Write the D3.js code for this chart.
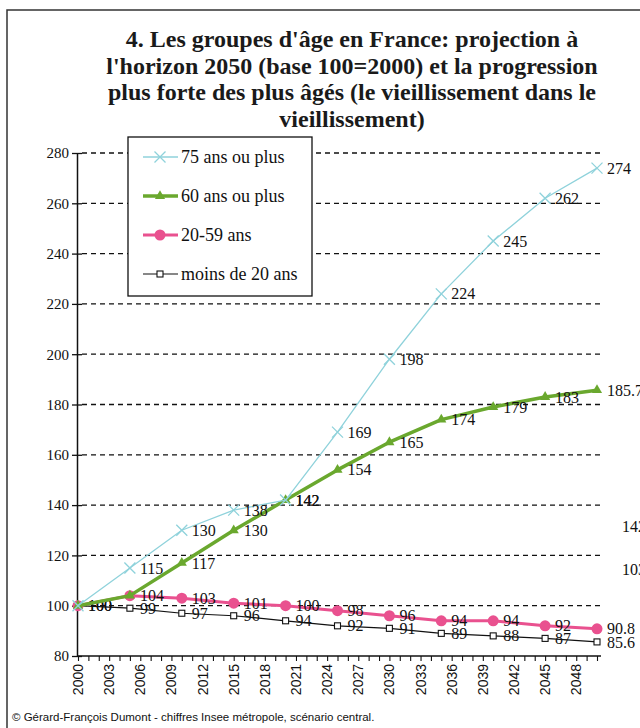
<!DOCTYPE html>
<html>
<head>
<meta charset="utf-8">
<script src="https://cdn.jsdelivr.net/npm/d3@7"></script>
<style>
  html, body { margin: 0; padding: 0; background: #fff; }
  svg { display: block; }
</style>
</head>
<body>
<svg id="chart" width="640" height="728"></svg>
<script>
const TITLE_LINES = [
  "4. Les groupes d'âge en France: projection à",
  "l'horizon 2050 (base 100=2000) et la progression",
  "plus forte des plus âgés (le vieillissement dans le",
  "vieillissement)",
];
const SOURCE = "© Gérard-François Dumont - chiffres Insee métropole, scénario central.";

const years = [2000, 2005, 2010, 2015, 2020, 2025, 2030, 2035, 2040, 2045, 2050];
const plus75 = [100, 115, 130, 138, 142, 169, 198, 224, 245, 262, 274];
const plus60 = [100, 104, 117, 130, 142, 154, 165, 174, 179, 183, 185.7];
const age20to59 = [100, 104, 103, 101, 100, 98, 96, 94, 94, 92, 90.8];
const under20 = [100, 99, 97, 96, 94, 92, 91, 89, 88, 87, 85.6];

// which points carry a value label (the 2000 and 2005 ones of the older groups don't)
const plus75Labels = [false, true, true, true, true, true, true, true, true, true, true];
const plus60Labels = [false, false, true, true, true, true, true, true, true, true, true];
const age20to59Labels = years.map(() => true);
const under20Labels = years.map(() => true);

const yTicks = [80, 100, 120, 140, 160, 180, 200, 220, 240, 260, 280];
const xTickLabels = d3.range(2000, 2049, 3);
// stray labels left on the right edge of the original
const strayLabels = [{ text: "142", value: 131.5 }, { text: "103", value: 114.5 }];

const SERIF = "'Liberation Serif', 'DejaVu Serif', serif";
const SANS = "'Liberation Sans', Arial, sans-serif";

const series = [
  { name: "75 ans ou plus", values: plus75, labels: plus75Labels, color: "#8fd2db", width: 1.3, marker: "cross" },
  { name: "60 ans ou plus", values: plus60, labels: plus60Labels, color: "#6aa82e", width: 3.5, marker: "triangle" },
  { name: "20-59 ans", values: age20to59, labels: age20to59Labels, color: "#e9518f", width: 3, marker: "circle" },
  { name: "moins de 20 ans", values: under20, labels: under20Labels, color: "#111", width: 1.2, marker: "square" },
];

const svg = d3.select("#chart");

// outer frame, runs off the right and bottom edges
svg.append("rect")
  .attr("x", 7).attr("y", 10)
  .attr("width", 700).attr("height", 800)
  .attr("fill", "none")
  .attr("stroke", "#333")
  .attr("stroke-width", 1.5);

svg.append("g")
  .selectAll("text")
  .data(TITLE_LINES)
  .join("text")
  .attr("x", 352)
  .attr("y", (d, i) => 47 + i * 26.5)
  .attr("text-anchor", "middle")
  .attr("font-family", SERIF)
  .attr("font-weight", "bold")
  .attr("font-size", 24)
  .attr("fill", "#1a1a1a")
  .text((d) => d);

const x = d3.scaleLinear().domain([2000, 2050]).range([78, 597]);
const y = d3.scaleLinear().domain([80, 280]).range([656, 153]);

// dashed grid
svg.append("g")
  .selectAll("line")
  .data(yTicks.filter((t) => t > 80))
  .join("line")
  .attr("x1", 82).attr("x2", 600)
  .attr("y1", (d) => y(d)).attr("y2", (d) => y(d))
  .attr("stroke", "#111")
  .attr("stroke-width", 1.3)
  .attr("stroke-dasharray", "5,4");

// y axis, ticks crossing the line
const yAxis = svg.append("g")
  .attr("transform", `translate(${x(2000) - 1},0)`)
  .call(d3.axisLeft(y).tickValues(yTicks).tickSizeInner(-5).tickSizeOuter(0).tickPadding(0));
yAxis.select(".domain").attr("stroke", "#111").attr("stroke-width", 1.5);
yAxis.selectAll(".tick line").attr("x1", -5).attr("x2", 5).attr("stroke", "#111").attr("stroke-width", 1.3);
yAxis.selectAll(".tick text")
  .attr("x", -8)
  .attr("font-family", SERIF)
  .attr("font-size", 15)
  .attr("fill", "#111");

// x axis: one tick per year, a label every three years
const xAxis = svg.append("g")
  .attr("transform", `translate(0,${y(80)})`)
  .call(d3.axisBottom(x).tickValues(d3.range(2000, 2051)).tickSizeInner(5).tickSizeOuter(0).tickFormat(""));
xAxis.select(".domain").attr("stroke", "#111").attr("stroke-width", 1.5)
  .attr("d", `M${x(2000) - 1},0H${x(2050) + 4}`);
xAxis.selectAll(".tick line").attr("stroke", "#111").attr("stroke-width", 1.1);

svg.append("g")
  .selectAll("text")
  .data(xTickLabels)
  .join("text")
  .attr("transform", (d) => `translate(${x(d) + 5},${y(80) + 8}) rotate(-90)`)
  .attr("text-anchor", "end")
  .attr("font-family", SANS)
  .attr("font-size", 14)
  .attr("fill", "#111")
  .text((d) => d);

function drawMarker(g, type, color, size) {
  if (type === "cross") {
    const s = size;
    g.append("path")
      .attr("d", `M${-s},${-s}L${s},${s}M${-s},${s}L${s},${-s}`)
      .attr("stroke", color).attr("stroke-width", 1.3).attr("fill", "none");
  } else if (type === "triangle") {
    g.append("path")
      .attr("d", d3.symbol(d3.symbolTriangle, size * size * 2.2)())
      .attr("fill", color);
  } else if (type === "circle") {
    g.append("circle").attr("r", size).attr("fill", color);
  } else {
    g.append("rect")
      .attr("x", -size).attr("y", -size)
      .attr("width", size * 2).attr("height", size * 2)
      .attr("fill", "#fff").attr("stroke", color).attr("stroke-width", 1.1);
  }
}

const markerSize = { cross: 5.5, triangle: 4.5, circle: 5.5, square: 3 };
const line = d3.line().x((d) => x(d[0])).y((d) => y(d[1]));

// draw the bottom series first so the older groups sit on top
[...series].reverse().forEach((s) => {
  const pts = years.map((yr, i) => [yr, s.values[i]]);
  const g = svg.append("g");
  g.append("path")
    .attr("d", line(pts))
    .attr("fill", "none")
    .attr("stroke", s.color)
    .attr("stroke-width", s.width)
    .attr("stroke-linejoin", "round");
  pts.forEach((p) => {
    const m = g.append("g").attr("transform", `translate(${x(p[0])},${y(p[1])})`);
    drawMarker(m, s.marker, s.color, markerSize[s.marker]);
  });
  g.selectAll("text")
    .data(pts.filter((p, i) => s.labels[i]))
    .join("text")
    .attr("x", (d) => x(d[0]) + 10)
    .attr("y", (d) => y(d[1]))
    .attr("dy", "0.35em")
    .attr("font-family", SERIF)
    .attr("font-size", 16)
    .attr("fill", "#111")
    .text((d) => d[1]);
});

svg.append("g")
  .selectAll("text")
  .data(strayLabels)
  .join("text")
  .attr("x", 622)
  .attr("y", (d) => y(d.value))
  .attr("dy", "0.35em")
  .attr("font-family", SERIF)
  .attr("font-size", 16)
  .attr("fill", "#111")
  .text((d) => d.text);

// legend
const legend = svg.append("g").attr("transform", "translate(128,137)");
legend.append("rect")
  .attr("width", 184).attr("height", 159)
  .attr("fill", "#fff")
  .attr("stroke", "#111")
  .attr("stroke-width", 1.3);
series.forEach((s, i) => {
  const row = legend.append("g").attr("transform", `translate(0,${20 + i * 39})`);
  row.append("line")
    .attr("x1", 15).attr("x2", 50)
    .attr("stroke", s.color)
    .attr("stroke-width", s.width);
  drawMarker(row.append("g").attr("transform", "translate(32,0)"), s.marker, s.color, markerSize[s.marker]);
  row.append("text")
    .attr("x", 53)
    .attr("dy", "0.35em")
    .attr("font-family", SERIF)
    .attr("font-size", 18)
    .attr("fill", "#111")
    .text(s.name);
});

svg.append("text")
  .attr("x", 12)
  .attr("y", 721)
  .attr("font-family", SANS)
  .attr("font-size", 11.5)
  .attr("fill", "#111")
  .text(SOURCE);
</script>
</body>
</html>
